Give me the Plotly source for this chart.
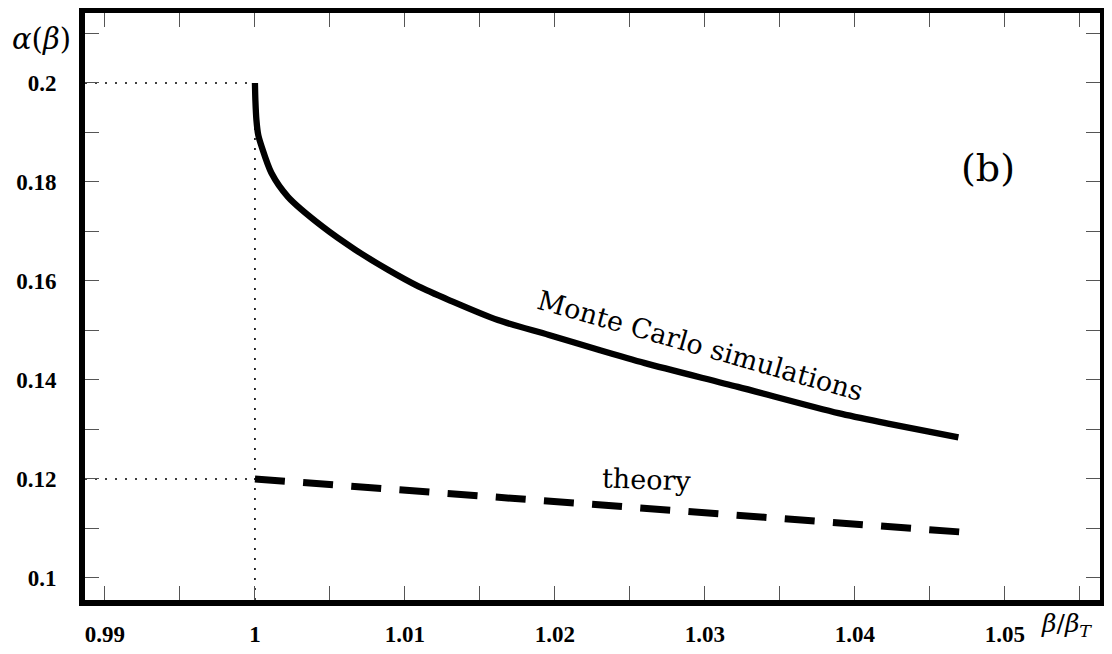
import plotly.graph_objects as go

# --- data ---
mc_beta = [1.0, 1.00003, 1.0001, 1.00022, 1.00045, 1.0011, 1.0022, 1.0045, 1.0067, 1.0089,
           1.0109, 1.0129, 1.0162, 1.0196, 1.0229, 1.0260, 1.0322, 1.0389, 1.0422, 1.0469]
mc_alpha = [0.2, 0.1965, 0.1925, 0.1895, 0.1871, 0.1818, 0.1770, 0.1710, 0.1663, 0.1622,
            0.1589, 0.1562, 0.1521, 0.1491, 0.1461, 0.1434, 0.1386, 0.1333, 0.1312, 0.1284]

theory_beta = [1.0, 1.047]
theory_alpha = [0.12, 0.1093]

ref_beta = 1.0
ref_alphas = [0.2, 0.12]

x_tickvals = [0.99, 1.0, 1.01, 1.02, 1.03, 1.04, 1.05]
x_ticktext = ["0.99", "1", "1.01", "1.02", "1.03", "1.04", "1.05"]
y_tickvals = [0.1, 0.12, 0.14, 0.16, 0.18, 0.2]
y_ticktext = ["0.1", "0.12", "0.14", "0.16", "0.18", "0.2"]

x_range = [0.98867, 1.05634]
y_range = [0.09555, 0.21414]

fig = go.Figure()

# dotted guide lines
for a in ref_alphas:
    fig.add_trace(go.Scatter(x=[x_range[0], ref_beta], y=[a, a], mode="lines",
                             line=dict(color="black", width=1.6, dash="2px,8px"),
                             hoverinfo="skip", showlegend=False))
fig.add_trace(go.Scatter(x=[ref_beta, ref_beta], y=[y_range[0], max(ref_alphas)], mode="lines",
                         line=dict(color="black", width=1.6, dash="2px,8px"),
                         hoverinfo="skip", showlegend=False))

fig.add_trace(go.Scatter(x=theory_beta, y=theory_alpha, mode="lines",
                         line=dict(color="black", width=7, dash="30px,18.3px"),
                         showlegend=False, name="theory"))
fig.add_trace(go.Scatter(x=mc_beta, y=mc_alpha, mode="lines",
                         line=dict(color="black", width=6.3, shape="spline", smoothing=0.8),
                         showlegend=False, name="Monte Carlo simulations"))

tickfont = dict(family="Liberation Serif", size=23, color="black", weight="bold")
fig.update_xaxes(range=x_range, showgrid=False, zeroline=False, automargin=False,
                 showline=True, linewidth=6, linecolor="black", mirror="allticks",
                 ticks="inside", ticklen=14, tickwidth=1.3, tickcolor="#555",
                 tickvals=x_tickvals, ticktext=x_ticktext, tickfont=tickfont,
                 minor=dict(dtick=0.005, tick0=0.99, ticks="inside", ticklen=14,
                            tickwidth=1.3, tickcolor="#555", showgrid=False),
                 ticklabelstandoff=8)
fig.update_yaxes(range=y_range, showgrid=False, zeroline=False, automargin=False,
                 showline=True, linewidth=6, linecolor="black", mirror="allticks",
                 ticks="inside", ticklen=14, tickwidth=1.3, tickcolor="#555",
                 tickvals=y_tickvals, ticktext=y_ticktext, tickfont=tickfont,
                 minor=dict(dtick=0.01, tick0=0.1, ticks="inside", ticklen=14,
                            tickwidth=1.3, tickcolor="#555", showgrid=False),
                 ticklabelstandoff=18)

txt = dict(family="DejaVu Serif", color="black")
fig.add_annotation(x=1.0297, y=0.1470, xref="x", yref="y", text="Monte Carlo simulations",
                   showarrow=False, textangle=16, font=dict(size=27, **txt))
fig.add_annotation(x=1.0261, y=0.1198, xref="x", yref="y", text="theory",
                   showarrow=False, textangle=2, font=dict(size=27, **txt))
fig.add_annotation(x=1.0489, y=0.1828, xref="x", yref="y", text="(b)",
                   showarrow=False, font=dict(size=38, **txt))
# plot area in page pixels: x 85..1100, y 13..600
fig.add_annotation(x=(41 - 85) / 1015, y=(600 - 39) / 587, xref="paper", yref="paper",
                   text="<i>α</i>(<i>β</i>)", showarrow=False,
                   font=dict(size=29, **txt), xanchor="center", yanchor="middle")
fig.add_annotation(x=(1066 - 85) / 1015, y=(600 - 625) / 587, xref="paper", yref="paper",
                   text="<i>β</i>/<i>β</i><sub><i>T</i></sub>", showarrow=False,
                   font=dict(size=25, **txt), xanchor="center", yanchor="middle")

fig.update_layout(width=1096, height=638, plot_bgcolor="white", paper_bgcolor="white",
                  margin=dict(l=77, r=4, t=5, b=46), showlegend=False)

fig.write_html("out.html")
